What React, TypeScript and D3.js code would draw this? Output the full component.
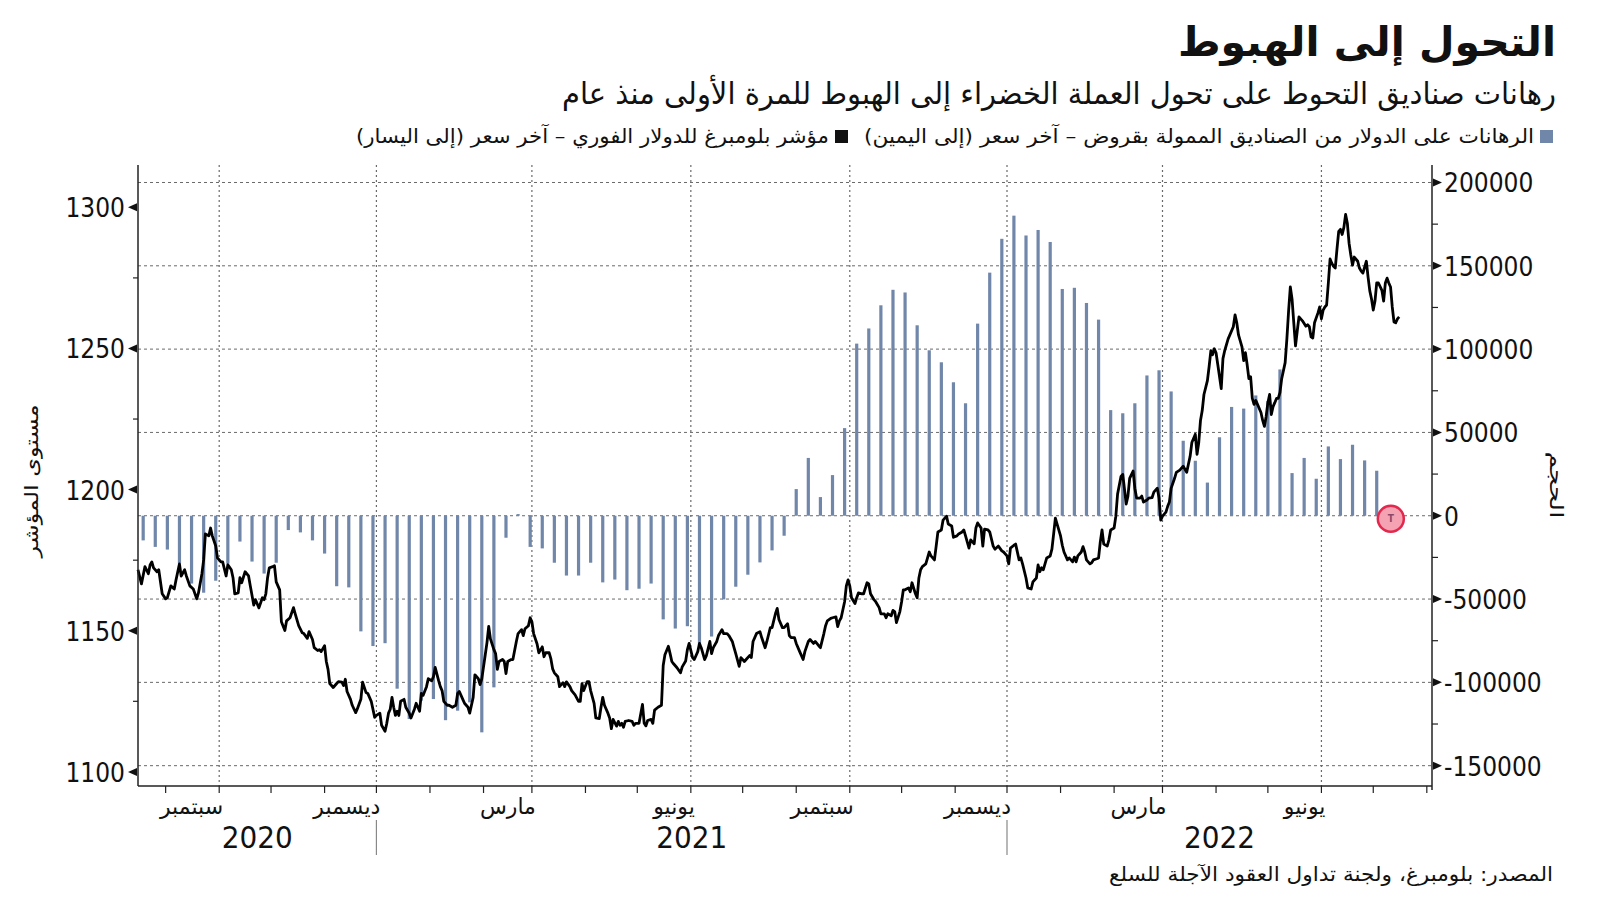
import React from "react";
import * as d3 from "d3";

// ---------------- texts ----------------
const titleText = "التحول إلى الهبوط";
const subtitleText = "رهانات صناديق التحوط على تحول العملة الخضراء إلى الهبوط للمرة الأولى منذ عام";
const legendBarsText = "الرهانات على الدولار من الصناديق الممولة بقروض – آخر سعر (إلى اليمين)";
const legendLineText = "مؤشر بلومبرغ للدولار الفوري – آخر سعر (إلى اليسار)";
const sourceText = "المصدر: بلومبرغ، ولجنة تداول العقود الآجلة للسلع";
const leftAxisTitle = "مستوى المؤشر";
const rightAxisTitle = "الحجم";

// ---------------- axes ----------------
const xDomain = ["2020-07-16", "2022-08-04"];
const monthLabelDates = ["2020-09-01", "2020-12-01", "2021-03-01", "2021-06-01", "2021-09-01", "2021-12-01", "2022-03-01", "2022-06-01"];
const monthLabelNames = ["سبتمبر", "ديسمبر", "مارس", "يونيو", "سبتمبر", "ديسمبر", "مارس", "يونيو"];
const yearLabels = ["2020", "2021", "2022"];
const yearBounds = ["2020-07-16", "2020-12-01", "2021-12-01", "2022-08-04"];
const yearSeparators = ["2020-12-01", "2021-12-01"];
const leftDomain = [1095, 1315];
const leftTicks = [1100, 1150, 1200, 1250, 1300];
const leftMinorTicks = [1125, 1175, 1225, 1275];
const rightDomain = [-162200, 210500];
const rightTicks = [-150000, -100000, -50000, 0, 50000, 100000, 150000, 200000];
const rightMinorTicks = [-125000, -75000, -25000, 25000, 75000, 125000, 175000];

// ---------------- bars (weekly) ----------------
const barFirstWeek = "2020-07-19";
const barValues = [
  -14800, -18700, -20300, -28700, -40700, -46200, -39000, -28700, -15500, -27500,
  -34700, -28200, -8600, -10000, -14800, -22700, -42300, -43000, -69400, -78200,
  -76500, -103800, -122000, -111000, -110000, -122700, -117000, -112000, -130000, -103000,
  -13200, 1000, -18700, -19600, -28200, -35900, -35900, -28200, -40000, -38300,
  -44700, -43800, -40700, -62200, -67700, -66300, -77700, -72500, -50200, -42600,
  -35400, -28000, -20800, -12000, 16000, 34700, 11200, 24400, 52600, 103300,
  112400, 126300, 135600, 134000, 114300, 99300, 92100, 80100, 67500, 115300,
  145900, 166200, 180100, 168200, 171500, 164300, 136100, 136800, 127700, 117700,
  63400, 61500, 67500, 84200, 87300, 74600, 45000, 33000, 19900, 47100,
  65300, 64300, 72200, 68900, 87800, 25600, 34700, 22200, 41600, 34000,
  42600, 33200, 27000,
];
const markerDate = "2022-07-10";
const markerValue = 0;
const markerLabel = "T";

// ---------------- line (Bloomberg dollar spot index) ----------------
const lineData: [string, number][] = [
  ["2020-07-16",1171.6],["2020-07-18",1166.6],["2020-07-20",1172.7],["2020-07-22",1170.2],["2020-07-23",1173.3],
  ["2020-07-24",1174.4],["2020-07-25",1172.3],["2020-07-27",1170.9],["2020-07-28",1171.6],["2020-07-30",1163.1],
  ["2020-08-01",1161.3],["2020-08-02",1161.7],["2020-08-04",1165.9],["2020-08-06",1164.8],["2020-08-07",1168.0],
  ["2020-08-09",1173.7],["2020-08-10",1169.4],["2020-08-12",1171.6],["2020-08-13",1169.4],["2020-08-15",1165.9],
  ["2020-08-17",1164.8],["2020-08-19",1161.3],["2020-08-20",1163.4],["2020-08-22",1170.2],["2020-08-23",1175.1],
  ["2020-08-24",1184.3],["2020-08-26",1183.6],["2020-08-27",1186.4],["2020-08-28",1183.6],["2020-08-30",1180.0],
  ["2020-08-31",1175.8],["2020-09-02",1174.4],["2020-09-03",1174.4],["2020-09-05",1169.4],["2020-09-06",1173.4],
  ["2020-09-08",1171.6],["2020-09-09",1168.8],["2020-09-10",1163.1],["2020-09-12",1163.4],["2020-09-13",1168.8],
  ["2020-09-14",1167.0],["2020-09-16",1170.9],["2020-09-18",1169.4],["2020-09-19",1165.9],["2020-09-21",1159.1],
  ["2020-09-22",1161.0],["2020-09-24",1158.1],["2020-09-26",1161.7],["2020-09-27",1161.0],["2020-09-28",1163.1],
  ["2020-09-29",1168.8],["2020-09-30",1172.3],["2020-10-02",1172.7],["2020-10-03",1173.0],["2020-10-04",1167.3],
  ["2020-10-06",1164.5],["2020-10-07",1153.2],["2020-10-09",1150.1],["2020-10-10",1153.5],["2020-10-12",1154.6],
  ["2020-10-14",1158.2],["2020-10-15",1156.0],["2020-10-17",1151.8],["2020-10-19",1149.3],["2020-10-20",1149.0],
  ["2020-10-22",1147.3],["2020-10-23",1149.7],["2020-10-25",1146.9],["2020-10-26",1144.0],["2020-10-28",1143.0],
  ["2020-10-29",1143.3],["2020-10-30",1142.6],["2020-11-01",1144.7],["2020-11-02",1139.1],["2020-11-03",1136.3],
  ["2020-11-04",1131.3],["2020-11-06",1129.9],["2020-11-08",1131.3],["2020-11-09",1132.0],["2020-11-11",1131.8],
  ["2020-11-12",1130.6],["2020-11-13",1132.8],["2020-11-14",1128.5],["2020-11-16",1125.7],["2020-11-17",1123.6],
  ["2020-11-19",1121.0],["2020-11-20",1122.4],["2020-11-22",1125.7],["2020-11-23",1131.8],["2020-11-25",1128.1],
  ["2020-11-26",1127.8],["2020-11-28",1125.0],["2020-11-30",1119.3],["2020-12-01",1120.0],["2020-12-03",1120.8],
  ["2020-12-04",1116.5],["2020-12-06",1114.4],["2020-12-07",1117.2],["2020-12-08",1120.8],["2020-12-09",1122.2],
  ["2020-12-10",1126.4],["2020-12-11",1122.9],["2020-12-12",1120.0],["2020-12-13",1121.5],["2020-12-14",1120.0],
  ["2020-12-15",1125.0],["2020-12-17",1125.7],["2020-12-18",1122.9],["2020-12-20",1120.8],["2020-12-21",1119.1],
  ["2020-12-23",1122.2],["2020-12-24",1124.3],["2020-12-26",1121.5],["2020-12-27",1127.8],["2020-12-28",1127.1],
  ["2020-12-30",1130.2],["2020-12-31",1133.0],
  ["2021-01-02",1132.3],["2021-01-03",1133.7],["2021-01-04",1137.0],["2021-01-06",1132.3],["2021-01-07",1130.2],
  ["2021-01-08",1128.8],["2021-01-09",1125.0],["2021-01-11",1123.6],["2021-01-12",1123.6],["2021-01-14",1122.9],
  ["2021-01-16",1123.6],["2021-01-17",1127.8],["2021-01-18",1128.5],["2021-01-20",1125.7],["2021-01-21",1124.3],
  ["2021-01-23",1122.9],["2021-01-24",1120.8],["2021-01-26",1126.4],["2021-01-27",1134.4],["2021-01-29",1133.0],
  ["2021-01-30",1130.9],["2021-01-31",1133.0],["2021-02-02",1141.5],["2021-02-03",1145.8],["2021-02-04",1151.5],
  ["2021-02-05",1147.1],["2021-02-07",1143.3],["2021-02-08",1141.9],["2021-02-09",1136.3],["2021-02-10",1139.1],
  ["2021-02-12",1139.8],["2021-02-13",1139.1],["2021-02-14",1134.8],["2021-02-15",1139.1],["2021-02-17",1139.8],
  ["2021-02-18",1139.8],["2021-02-20",1146.2],["2021-02-21",1149.0],["2021-02-23",1150.4],["2021-02-24",1148.3],
  ["2021-02-25",1150.7],["2021-02-27",1151.8],["2021-02-28",1154.6],["2021-03-01",1153.2],["2021-03-02",1149.0],
  ["2021-03-04",1145.3],["2021-03-05",1142.2],["2021-03-07",1144.3],["2021-03-08",1140.8],["2021-03-09",1142.2],
  ["2021-03-11",1142.2],["2021-03-12",1140.0],["2021-03-13",1136.5],["2021-03-14",1135.1],["2021-03-16",1133.7],
  ["2021-03-17",1130.2],["2021-03-19",1131.6],["2021-03-20",1130.2],["2021-03-21",1131.9],["2021-03-23",1130.2],
  ["2021-03-24",1128.8],["2021-03-26",1127.3],["2021-03-28",1125.0],["2021-03-29",1125.0],["2021-03-30",1131.3],
  ["2021-03-31",1128.8],["2021-04-02",1132.0],["2021-04-03",1132.0],["2021-04-04",1128.8],["2021-04-06",1124.3],
  ["2021-04-07",1119.1],["2021-04-09",1118.9],["2021-04-10",1122.9],["2021-04-11",1126.4],["2021-04-12",1123.6],
  ["2021-04-14",1120.8],["2021-04-15",1119.1],["2021-04-16",1115.3],["2021-04-17",1118.6],["2021-04-19",1116.2],
  ["2021-04-20",1117.9],["2021-04-21",1116.5],["2021-04-22",1117.2],["2021-04-23",1115.8],["2021-04-24",1117.9],
  ["2021-04-26",1118.2],["2021-04-28",1117.9],["2021-04-29",1116.5],["2021-04-30",1117.2],["2021-05-02",1117.2],
  ["2021-05-04",1123.9],["2021-05-05",1117.2],["2021-05-06",1116.3],["2021-05-07",1118.2],["2021-05-09",1118.6],
  ["2021-05-10",1117.2],["2021-05-11",1121.9],["2021-05-13",1122.9],["2021-05-15",1123.6],["2021-05-16",1137.7],
  ["2021-05-17",1141.5],["2021-05-19",1144.5],["2021-05-20",1141.9],["2021-05-21",1139.1],["2021-05-22",1138.3],
  ["2021-05-24",1136.9],["2021-05-26",1135.1],["2021-05-27",1137.2],["2021-05-29",1139.3],["2021-05-30",1143.3],
  ["2021-05-31",1145.5],["2021-06-02",1140.5],["2021-06-03",1139.8],["2021-06-05",1142.6],["2021-06-06",1145.5],
  ["2021-06-07",1144.0],["2021-06-09",1139.8],["2021-06-10",1141.2],["2021-06-12",1146.2],["2021-06-13",1141.9],
  ["2021-06-14",1144.0],["2021-06-16",1146.2],["2021-06-17",1148.3],["2021-06-19",1150.4],["2021-06-20",1149.0],
  ["2021-06-22",1149.0],["2021-06-23",1148.3],["2021-06-25",1146.2],["2021-06-26",1144.0],["2021-06-27",1141.9],
  ["2021-06-29",1137.4],["2021-06-30",1140.5],["2021-07-02",1139.1],["2021-07-03",1139.8],["2021-07-05",1141.2],
  ["2021-07-06",1140.5],["2021-07-07",1146.2],["2021-07-09",1149.0],["2021-07-11",1149.7],["2021-07-12",1147.6],
  ["2021-07-14",1144.0],["2021-07-15",1146.2],["2021-07-17",1151.1],["2021-07-18",1151.1],["2021-07-20",1156.1],
  ["2021-07-21",1157.9],["2021-07-22",1154.0],["2021-07-24",1151.1],["2021-07-25",1151.1],["2021-07-27",1152.5],
  ["2021-07-28",1148.3],["2021-07-29",1147.6],["2021-07-31",1147.6],["2021-08-01",1145.5],["2021-08-03",1142.6],
  ["2021-08-05",1139.8],["2021-08-06",1142.6],["2021-08-08",1146.2],["2021-08-09",1146.9],["2021-08-11",1145.5],
  ["2021-08-12",1146.2],["2021-08-14",1144.7],["2021-08-15",1144.0],["2021-08-17",1149.0],["2021-08-18",1151.8],
  ["2021-08-19",1153.5],["2021-08-21",1154.4],["2021-08-22",1154.6],["2021-08-24",1154.9],["2021-08-25",1151.5],
  ["2021-08-26",1153.5],["2021-08-27",1154.6],["2021-08-29",1160.3],["2021-08-30",1165.9],["2021-08-31",1168.0],
  ["2021-09-01",1165.9],["2021-09-02",1161.7],["2021-09-04",1159.6],["2021-09-05",1161.7],["2021-09-06",1163.4],
  ["2021-09-08",1163.1],["2021-09-09",1163.1],["2021-09-11",1167.0],["2021-09-12",1166.6],["2021-09-13",1163.1],
  ["2021-09-15",1161.0],["2021-09-16",1160.3],["2021-09-18",1158.2],["2021-09-19",1156.0],["2021-09-21",1156.0],
  ["2021-09-22",1154.6],["2021-09-23",1156.0],["2021-09-25",1155.3],["2021-09-26",1157.2],["2021-09-27",1156.8],
  ["2021-09-28",1152.9],["2021-09-30",1156.8],["2021-10-01",1160.3],["2021-10-02",1164.5],["2021-10-03",1164.5],
  ["2021-10-05",1165.2],["2021-10-06",1163.8],["2021-10-07",1167.0],["2021-10-09",1163.1],["2021-10-10",1161.7],
  ["2021-10-11",1168.7],["2021-10-12",1171.6],["2021-10-13",1172.7],["2021-10-15",1173.7],["2021-10-17",1177.9],
  ["2021-10-18",1176.5],["2021-10-20",1175.1],["2021-10-21",1180.0],["2021-10-22",1185.0],["2021-10-24",1185.7],
  ["2021-10-25",1189.2],["2021-10-27",1190.6],["2021-10-28",1187.8],["2021-10-30",1187.1],["2021-10-31",1183.1],
  ["2021-11-02",1183.6],["2021-11-03",1184.3],["2021-11-05",1185.0],["2021-11-06",1185.7],["2021-11-07",1183.6],
  ["2021-11-09",1179.3],["2021-11-10",1182.2],["2021-11-12",1180.8],["2021-11-13",1186.4],["2021-11-14",1188.2],
  ["2021-11-16",1186.4],["2021-11-17",1180.0],["2021-11-18",1186.0],["2021-11-20",1185.7],["2021-11-21",1185.0],
  ["2021-11-23",1180.0],["2021-11-24",1178.9],["2021-11-26",1180.0],["2021-11-28",1178.3],["2021-11-29",1177.9],
  ["2021-12-01",1176.5],["2021-12-02",1173.7],["2021-12-03",1179.3],["2021-12-05",1180.3],["2021-12-06",1180.7],
  ["2021-12-08",1175.1],["2021-12-09",1175.8],["2021-12-10",1173.7],["2021-12-12",1168.7],["2021-12-13",1165.2],
  ["2021-12-15",1164.8],["2021-12-16",1167.3],["2021-12-18",1168.7],["2021-12-19",1173.3],["2021-12-20",1170.9],
  ["2021-12-21",1172.3],["2021-12-22",1171.6],["2021-12-23",1173.7],["2021-12-24",1175.8],["2021-12-26",1176.5],
  ["2021-12-27",1178.9],["2021-12-28",1184.3],["2021-12-29",1189.9],["2021-12-30",1187.8],
  ["2022-01-01",1183.6],["2022-01-02",1180.3],["2022-01-03",1177.9],["2022-01-05",1175.1],["2022-01-06",1175.8],
  ["2022-01-08",1174.4],["2022-01-09",1176.1],["2022-01-10",1174.4],["2022-01-11",1176.5],["2022-01-13",1177.9],
  ["2022-01-14",1179.8],["2022-01-15",1177.9],["2022-01-16",1175.1],["2022-01-18",1173.7],["2022-01-19",1174.1],
  ["2022-01-20",1175.1],["2022-01-22",1175.5],["2022-01-23",1175.8],["2022-01-24",1181.5],["2022-01-25",1185.7],
  ["2022-01-26",1180.7],["2022-01-28",1180.0],["2022-01-29",1182.2],["2022-01-30",1185.7],["2022-02-01",1186.4],
  ["2022-02-02",1190.6],["2022-02-03",1198.4],["2022-02-05",1204.7],["2022-02-06",1205.4],["2022-02-08",1194.9],
  ["2022-02-09",1197.7],["2022-02-10",1204.0],["2022-02-12",1206.6],["2022-02-13",1200.5],["2022-02-14",1197.0],
  ["2022-02-16",1197.0],["2022-02-17",1197.7],["2022-02-18",1195.6],["2022-02-20",1196.3],["2022-02-21",1197.0],
  ["2022-02-23",1197.2],["2022-02-24",1199.1],["2022-02-26",1200.5],["2022-02-27",1197.0],["2022-02-28",1189.2],
  ["2022-03-01",1190.6],["2022-03-03",1192.0],["2022-03-04",1194.1],["2022-03-05",1195.6],["2022-03-06",1200.5],
  ["2022-03-08",1204.0],["2022-03-09",1206.1],["2022-03-11",1206.9],["2022-03-13",1208.3],["2022-03-15",1206.1],
  ["2022-03-16",1209.0],["2022-03-17",1211.8],["2022-03-18",1216.7],["2022-03-20",1219.6],["2022-03-21",1212.5],
  ["2022-03-22",1216.7],["2022-03-23",1224.5],["2022-03-24",1228.0],["2022-03-25",1233.7],["2022-03-27",1238.6],
  ["2022-03-28",1243.6],["2022-03-29",1249.2],["2022-03-30",1247.8],["2022-03-31",1249.9],["2022-04-01",1248.5],
  ["2022-04-02",1244.3],["2022-04-04",1235.8],["2022-04-05",1246.4],["2022-04-06",1249.2],["2022-04-08",1253.4],
  ["2022-04-09",1254.8],["2022-04-11",1257.7],["2022-04-12",1261.9],["2022-04-13",1259.1],["2022-04-14",1254.8],
  ["2022-04-16",1250.6],["2022-04-17",1245.7],["2022-04-18",1248.5],["2022-04-19",1244.3],["2022-04-20",1239.3],
  ["2022-04-21",1240.0],["2022-04-22",1232.3],["2022-04-23",1230.2],["2022-04-24",1231.6],["2022-04-25",1230.2],
  ["2022-04-27",1227.3],["2022-04-28",1224.5],["2022-04-29",1222.4],["2022-04-30",1225.9],["2022-05-01",1230.8],
  ["2022-05-02",1233.7],["2022-05-03",1226.6],["2022-05-04",1229.4],["2022-05-05",1230.8],["2022-05-06",1232.3],
  ["2022-05-07",1232.3],["2022-05-08",1234.4],["2022-05-09",1239.3],["2022-05-11",1245.0],["2022-05-12",1253.4],
  ["2022-05-13",1263.3],["2022-05-14",1271.8],["2022-05-15",1267.5],["2022-05-16",1259.1],["2022-05-17",1250.9],
  ["2022-05-18",1256.2],["2022-05-19",1261.2],["2022-05-20",1260.5],["2022-05-21",1259.8],["2022-05-23",1257.9],
  ["2022-05-24",1258.4],["2022-05-25",1257.7],["2022-05-26",1254.1],["2022-05-27",1253.7],["2022-05-28",1259.1],
  ["2022-05-30",1262.6],["2022-05-31",1264.7],["2022-06-01",1260.5],["2022-06-02",1263.6],["2022-06-03",1264.7],
  ["2022-06-04",1265.4],["2022-06-05",1273.2],["2022-06-06",1281.7],["2022-06-07",1280.2],["2022-06-08",1279.1],
  ["2022-06-09",1278.5],["2022-06-10",1285.2],["2022-06-11",1291.5],["2022-06-12",1292.2],["2022-06-13",1290.4],
  ["2022-06-14",1292.9],["2022-06-15",1297.5],["2022-06-16",1294.4],["2022-06-17",1287.3],["2022-06-18",1283.1],
  ["2022-06-19",1279.5],["2022-06-20",1282.4],["2022-06-22",1280.9],["2022-06-23",1278.5],["2022-06-24",1277.4],
  ["2022-06-25",1276.7],["2022-06-27",1280.9],["2022-06-28",1275.3],["2022-06-29",1270.4],["2022-06-30",1267.5],
  ["2022-07-01",1263.6],["2022-07-02",1266.8],["2022-07-03",1273.2],["2022-07-04",1273.2],["2022-07-06",1270.6],
  ["2022-07-07",1266.8],["2022-07-08",1273.2],["2022-07-09",1274.9],["2022-07-10",1273.2],["2022-07-11",1271.8],
  ["2022-07-12",1264.7],["2022-07-13",1259.4],["2022-07-14",1259.1],["2022-07-15",1260.5],["2022-07-16",1261.2],
];

// ---------------- layout / style ----------------
const W = 1600;
const H = 901;
const PL = 138;
const PR = 1432;
const PT = 165;
const PB = 786;
const AR_FONT = "'DejaVu Sans', sans-serif";
const NUM_FONT = "'DejaVu Sans Condensed', 'DejaVu Sans', sans-serif";
const YEAR_FONT = "'Liberation Sans Narrow', 'DejaVu Sans Condensed', 'Liberation Sans', sans-serif";
const BAR_COLOR = "#7187aa";
const GRID_COLOR = "#6a6a6a";

const parse = d3.utcParse("%Y-%m-%d");

type ArProps = {
  x: number;
  y: number;
  size: number;
  width?: number;
  weight?: string | number;
  fill?: string;
  anchor?: "start" | "middle" | "end";
  transform?: string;
  children: string;
};

function ArText({ x, y, size, width, weight, fill, anchor, transform, children }: ArProps) {
  return (
    <text
      x={x}
      y={y}
      transform={transform}
      direction="rtl"
      textAnchor={anchor || "start"}
      fontFamily={AR_FONT}
      fontSize={size}
      fontWeight={weight || "normal"}
      fill={fill || "#111"}
      textLength={width}
      lengthAdjust={width ? "spacingAndGlyphs" : undefined}
    >
      {children}
    </text>
  );
}

export default function App() {
  const x = d3
    .scaleUtc()
    .domain([parse(xDomain[0]) as Date, parse(xDomain[1]) as Date])
    .range([PL, PR]);
  const yL = d3.scaleLinear().domain(leftDomain).range([PB, PT]);
  const yR = d3.scaleLinear().domain(rightDomain).range([PB, PT]);

  const monthTicks = d3.utcMonth.range(parse("2020-08-01") as Date, parse("2022-08-02") as Date);
  const barStart = parse(barFirstWeek) as Date;
  const bars = barValues.map((v, i) => ({ date: d3.utcDay.offset(barStart, i * 7), value: v }));
  const line = d3
    .line<[string, number]>()
    .x((d) => x(parse(d[0]) as Date))
    .y((d) => yL(d[1]))
    .curve(d3.curveLinear);

  const mDate = parse(markerDate) as Date;

  return (
    <svg
      width={W}
      height={H}
      viewBox={`0 0 ${W} ${H}`}
      style={{ position: "absolute", left: 0, top: 0, background: "#fff" }}
    >
      <rect x={0} y={0} width={W} height={H} fill="#fff" />

      {/* header */}
      <ArText x={1556} y={56} size={41} weight="bold">
        {titleText}
      </ArText>
      <ArText x={1556} y={104} size={30} width={994}>
        {subtitleText}
      </ArText>

      {/* legend */}
      <rect x={1540} y={130} width={13} height={13} fill={BAR_COLOR} />
      <ArText x={1534} y={143} size={20} width={670}>
        {legendBarsText}
      </ArText>
      <rect x={835} y={130} width={13} height={13} fill="#111" />
      <ArText x={829} y={143} size={20} width={473}>
        {legendLineText}
      </ArText>

      {/* horizontal grid */}
      {rightTicks.map((t) => (
        <line
          key={"hg" + t}
          x1={PL}
          x2={PR}
          y1={yR(t)}
          y2={yR(t)}
          stroke={GRID_COLOR}
          strokeWidth={1}
          strokeDasharray="3 3"
        />
      ))}
      {/* vertical grid */}
      {monthLabelDates.map((d) => {
        const xx = x(parse(d) as Date);
        return (
          <line
            key={"vg" + d}
            x1={xx}
            x2={xx}
            y1={PT}
            y2={PB}
            stroke={GRID_COLOR}
            strokeWidth={1.2}
            strokeDasharray="2 3"
          />
        );
      })}

      {/* bars */}
      {bars.map((b, i) => {
        const y0 = yR(0);
        const y1 = yR(b.value);
        return (
          <rect
            key={"b" + i}
            x={x(b.date) - 1.6}
            y={Math.min(y0, y1)}
            width={3.2}
            height={Math.abs(y1 - y0)}
            fill={BAR_COLOR}
          />
        );
      })}

      {/* line */}
      <path d={line(lineData) || ""} fill="none" stroke="#000" strokeWidth={2.8} strokeLinejoin="round" />

      {/* marker */}
      <circle cx={x(mDate) + 2} cy={yR(markerValue) + 3} r={13} fill="#f5a3b3" stroke="#e3274d" strokeWidth={2.5} />
      <text
        x={x(mDate) + 2}
        y={yR(markerValue) + 3}
        textAnchor="middle"
        dominantBaseline="central"
        fontFamily={NUM_FONT}
        fontSize={10}
        fontWeight="bold"
        fill="#8a4a6a"
      >
        {markerLabel}
      </text>

      {/* left axis */}
      <line x1={PL} x2={PL} y1={PT} y2={PB} stroke="#222" strokeWidth={1.5} />
      {leftTicks.map((t) => (
        <g key={"lt" + t}>
          <path d={`M${PL - 1},${yL(t) - 4}L${PL - 10},${yL(t)}L${PL - 1},${yL(t) + 4}Z`} fill="#111" />
          <text
            x={PL - 13}
            y={yL(t) + 1}
            textAnchor="end"
            dominantBaseline="central"
            fontFamily={NUM_FONT}
            fontSize={26}
            fill="#111"
          >
            {t}
          </text>
        </g>
      ))}
      {leftMinorTicks.map((t) => (
        <line key={"lm" + t} x1={PL - 5} x2={PL} y1={yL(t)} y2={yL(t)} stroke="#222" strokeWidth={1.2} />
      ))}
      <ArText x={0} y={0} size={19} width={153} anchor="middle" transform="translate(38,481) rotate(-90)">
        {leftAxisTitle}
      </ArText>

      {/* right axis */}
      <line x1={PR} x2={PR} y1={PT} y2={PB + 4} stroke="#222" strokeWidth={1.5} />
      {rightTicks.map((t) => (
        <g key={"rt" + t}>
          <path d={`M${PR + 1},${yR(t) - 4}L${PR + 10},${yR(t)}L${PR + 1},${yR(t) + 4}Z`} fill="#111" />
          <text
            x={PR + 12}
            y={yR(t) + 1}
            textAnchor="start"
            dominantBaseline="central"
            fontFamily={NUM_FONT}
            fontSize={26}
            fill="#111"
          >
            {t}
          </text>
        </g>
      ))}
      {rightMinorTicks.map((t) => (
        <line key={"rm" + t} x1={PR} x2={PR + 6} y1={yR(t)} y2={yR(t)} stroke="#222" strokeWidth={1.2} />
      ))}
      <ArText x={0} y={0} size={19} width={67} anchor="middle" transform="translate(1550,485) rotate(90)">
        {rightAxisTitle}
      </ArText>

      {/* bottom axis */}
      <line x1={PL} x2={PR} y1={PB} y2={PB} stroke="#222" strokeWidth={1.5} />
      {monthTicks.map((m, i) => (
        <line key={"mt" + i} x1={x(m)} x2={x(m)} y1={PB} y2={PB + 7} stroke="#222" strokeWidth={1.2} />
      ))}
      {monthLabelDates.map((d, i) => (
        <ArText key={"ml" + i} x={x(parse(d) as Date) + 4} y={814} size={22}>
          {monthLabelNames[i]}
        </ArText>
      ))}
      {yearLabels.map((yl, i) => {
        const a = x(parse(yearBounds[i]) as Date);
        const b = x(parse(yearBounds[i + 1]) as Date);
        return (
          <text
            key={"yl" + yl}
            x={(a + b) / 2}
            y={848}
            textAnchor="middle"
            fontFamily={YEAR_FONT}
            fontSize={31}
            fill="#111"
          >
            {yl}
          </text>
        );
      })}
      {yearSeparators.map((d) => {
        const xx = x(parse(d) as Date);
        return <line key={"ys" + d} x1={xx} x2={xx} y1={820} y2={855} stroke="#888" strokeWidth={1.2} />;
      })}

      {/* source */}
      <ArText x={1553} y={881} size={20} width={444}>
        {sourceText}
      </ArText>
    </svg>
  );
}
